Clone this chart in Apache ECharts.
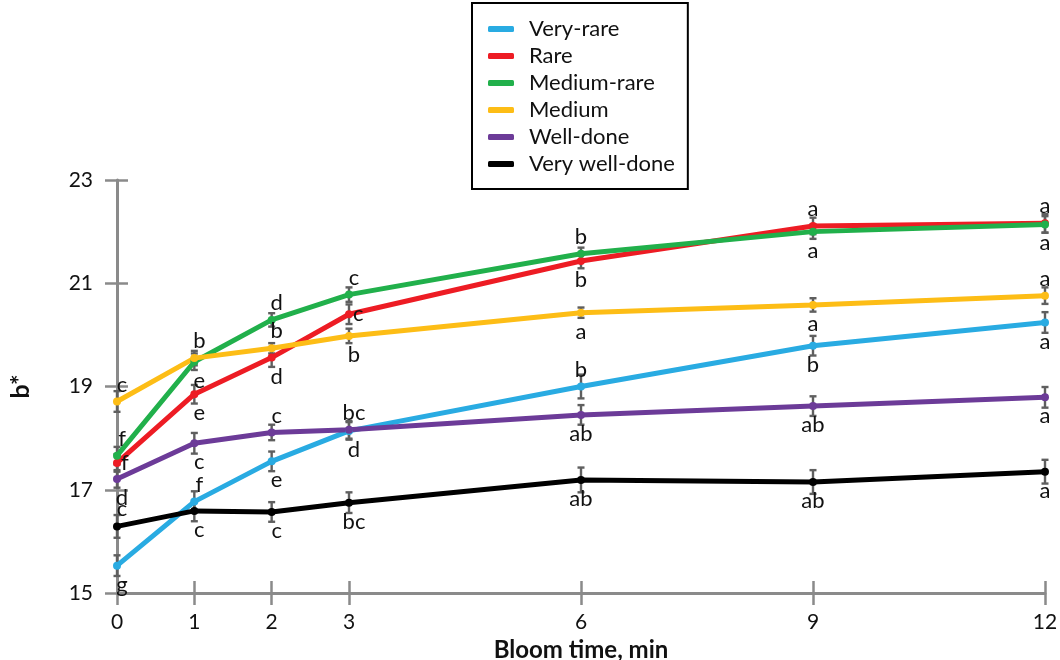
<!DOCTYPE html>
<html>
<head>
<meta charset="utf-8">
<script src="https://cdn.jsdelivr.net/npm/echarts@6/dist/echarts.min.js"></script>
<style>html,body{margin:0;padding:0;background:#fff;}#c{width:1060px;height:660px;}</style>
</head>
<body>
<div id="c"></div>
<script>
// ---- data ----
const times = [0, 1, 2, 3, 6, 9, 12];
const xTickValues = [0, 1, 2, 3, 6, 9, 12];
const yTickValues = [15, 17, 19, 21, 23];
const seriesNames = ['Very-rare', 'Rare', 'Medium-rare', 'Medium', 'Well-done', 'Very well-done'];

const veryRare     = [15.53, 16.77, 17.55, 18.14, 19.00, 19.79, 20.24];
const rare         = [17.52, 18.85, 19.56, 20.40, 21.43, 22.11, 22.16];
const mediumRare   = [17.66, 19.48, 20.29, 20.78, 21.57, 22.00, 22.14];
const medium       = [18.71, 19.55, 19.74, 19.98, 20.43, 20.58, 20.76];
const wellDone     = [17.21, 17.90, 18.11, 18.16, 18.45, 18.62, 18.79];
const veryWellDone = [16.29, 16.59, 16.57, 16.75, 17.19, 17.15, 17.35];

const errVeryRare     = [0.20, 0.20, 0.19, 0.17, 0.23, 0.19, 0.20];
const errRare         = [0.17, 0.18, 0.18, 0.19, 0.14, 0.16, 0.18];
const errMediumRare   = [0.17, 0.16, 0.13, 0.14, 0.12, 0.14, 0.16];
const errMedium       = [0.20, 0.14, 0.10, 0.14, 0.10, 0.13, 0.16];
const errWellDone     = [0.17, 0.20, 0.15, 0.17, 0.19, 0.19, 0.20];
const errVeryWellDone = [0.22, 0.20, 0.19, 0.20, 0.24, 0.23, 0.23];

const lettersVeryRare     = ['g', 'f', 'e', 'd', 'b', 'b', 'a'];
const lettersRare         = ['f', 'e', 'd', 'c', 'b', 'a', 'a'];
const lettersMediumRare   = ['f', 'e', 'd', 'c', 'b', 'a', 'a'];
const lettersMedium       = ['c', 'b', 'b', 'b', 'a', 'a', 'a'];
const lettersWellDone     = ['d', 'c', 'c', 'bc', 'ab', 'ab', 'a'];
const lettersVeryWellDone = ['c', 'c', 'c', 'bc', 'ab', 'ab', 'a'];

// letter side: t = above, b = below, r = right
const sideVeryRare     = ['b', 't', 'b', 'b', 't', 'b', 'b'];
const sideRare         = ['r', 'b', 'b', 'r', 'b', 't', 't'];
const sideMediumRare   = ['t', 'b', 't', 't', 't', 'b', 'b'];
const sideMedium       = ['t', 't', 't', 'b', 'b', 'b', 't'];
const sideWellDone     = ['b', 'b', 't', 't', 'b', 'b', 'b'];
const sideVeryWellDone = ['t', 'b', 'b', 'b', 'b', 'b', 'b'];

// ---- styling ----
const colors = ['#29ABE2', '#ED1C24', '#21B04B', '#FDBD16', '#6C3B98', '#000000'];
const FONT = 'Lato';
const values = [veryRare, rare, mediumRare, medium, wellDone, veryWellDone];
const errs = [errVeryRare, errRare, errMediumRare, errMedium, errWellDone, errVeryWellDone];
const letters = [lettersVeryRare, lettersRare, lettersMediumRare, lettersMedium, lettersWellDone, lettersVeryWellDone];
const sides = [sideVeryRare, sideRare, sideMediumRare, sideMedium, sideWellDone, sideVeryWellDone];

const axisGrey = '#8a8a8a';
const series = [];

// error bars
values.forEach((vals, s) => {
  series.push({
    type: 'custom',
    name: seriesNames[s] + ' err',
    xAxisIndex: 0, yAxisIndex: 0,
    z: 3,
    silent: true,
    data: times.map((t, i) => [t, vals[i], errs[s][i]]),
    renderItem: function (params, api) {
      const x = api.value(0), y = api.value(1), e = api.value(2);
      const top = api.coord([x, y + e]);
      const bot = api.coord([x, y - e]);
      const hw = 3.5;
      const st = { stroke: '#5f5f5f', lineWidth: 2.4 };
      return {
        type: 'group',
        children: [
          { type: 'line', shape: { x1: top[0], y1: top[1], x2: bot[0], y2: bot[1] }, style: st },
          { type: 'line', shape: { x1: top[0] - hw, y1: top[1], x2: top[0] + hw, y2: top[1] }, style: st },
          { type: 'line', shape: { x1: bot[0] - hw, y1: bot[1], x2: bot[0] + hw, y2: bot[1] }, style: st }
        ]
      };
    }
  });
});

// lines
values.forEach((vals, s) => {
  series.push({
    type: 'line',
    name: seriesNames[s],
    xAxisIndex: 0, yAxisIndex: 0,
    z: 5,
    color: colors[s],
    lineStyle: { width: 5, color: colors[s] },
    symbol: 'circle',
    symbolSize: 8,
    itemStyle: { color: colors[s] },
    data: times.map((t, i) => {
      const side = sides[s][i];
      const pos = side === 't' ? 'top' : side === 'b' ? 'bottom' : 'right';
      return {
        value: [t, vals[i]],
        label: {
          show: true,
          formatter: letters[s][i],
          position: pos,
          distance: side === 't' ? 3 : side === 'b' ? 5 : 0,
          offset: side === 'r' ? [0, 0] : (t <= 3 ? [5, 0] : [0, 0]),
          color: '#111',
          fontFamily: FONT,
          fontSize: 22,
          lineHeight: 20
        }
      };
    })
  });
});

const chart = echarts.init(document.getElementById('c'), null, { renderer: 'canvas' });
chart.setOption({
  backgroundColor: '#ffffff',
  animation: false,
  textStyle: { fontFamily: FONT },
  grid: { left: 117, right: 15, top: 180, bottom: 67, containLabel: false, outerBoundsMode: 'none' },
  legend: {
    data: seriesNames,
    orient: 'vertical',
    left: 472,
    top: 3,
    borderColor: '#000',
    borderWidth: 2,
    padding: [15, 13, 14, 16],
    icon: 'roundRect',
    itemWidth: 26,
    itemHeight: 6,
    itemGap: 5,
    textStyle: { fontFamily: FONT, fontSize: 22, color: '#111', lineHeight: 22, padding: [0, 0, 0, 10] }
  },
  xAxis: [{
    type: 'value',
    min: 0, max: 12,
    name: 'Bloom time, min',
    nameLocation: 'middle',
    nameGap: 43,
    nameTextStyle: { fontFamily: FONT, fontSize: 24, fontWeight: 'bold', color: '#111' },
    axisLine: { show: true, lineStyle: { color: axisGrey, width: 3 } },
    axisTick: { show: true, length: 12, customValues: xTickValues, lineStyle: { color: axisGrey, width: 2.5 } },
    axisLabel: { customValues: xTickValues, margin: 19, fontFamily: FONT, fontSize: 21, color: '#111' },
    splitLine: { show: false }
  }, {
    type: 'value',
    min: 0, max: 12,
    position: 'bottom',
    axisLine: { show: false },
    axisTick: { show: true, inside: true, length: 12, customValues: xTickValues, lineStyle: { color: axisGrey, width: 2.5 } },
    axisLabel: { show: false },
    splitLine: { show: false }
  }],
  yAxis: [{
    type: 'value',
    min: 15, max: 23,
    name: 'b*',
    nameLocation: 'middle',
    nameGap: 84,
    nameRotate: 90,
    nameTextStyle: { fontFamily: FONT, fontSize: 25, fontWeight: 'bold', color: '#111' },
    axisLine: { show: true, lineStyle: { color: axisGrey, width: 3 } },
    axisTick: { show: true, length: 12, customValues: yTickValues, lineStyle: { color: axisGrey, width: 2.5 } },
    axisLabel: { customValues: yTickValues, margin: 24, fontFamily: FONT, fontSize: 21, color: '#111' },
    splitLine: { show: false }
  }, {
    type: 'value',
    min: 15, max: 23,
    position: 'left',
    axisLine: { show: false },
    axisTick: { show: true, inside: true, length: 11, customValues: yTickValues, lineStyle: { color: axisGrey, width: 2.5 } },
    axisLabel: { show: false },
    splitLine: { show: false }
  }],
  series: series
});
</script>
</body>
</html>
